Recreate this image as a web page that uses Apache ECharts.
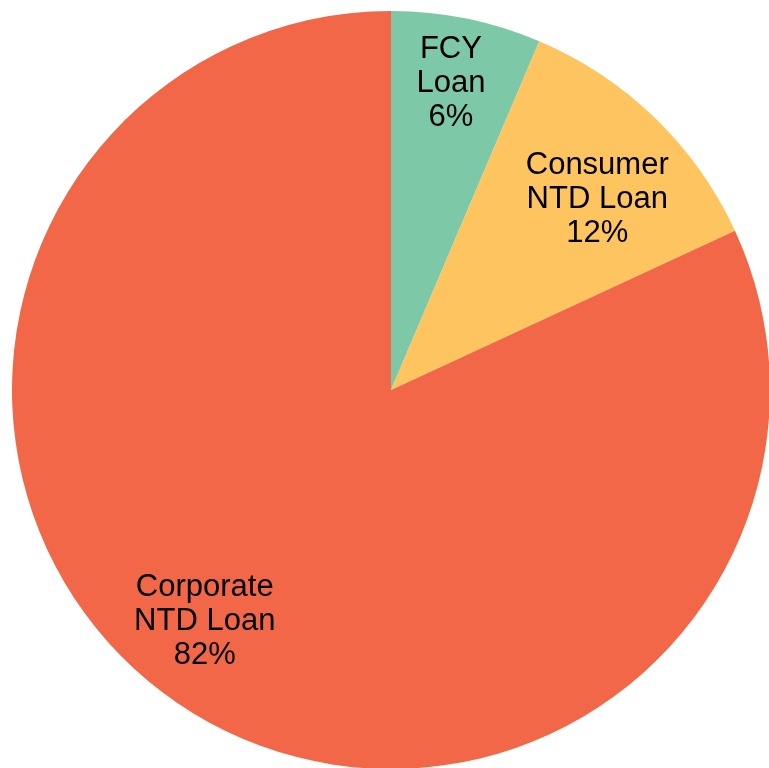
<!DOCTYPE html>
<html><head><meta charset="utf-8">
<script src="https://cdn.jsdelivr.net/npm/echarts@6/dist/echarts.min.js"></script>
<style>html,body{margin:0;padding:0;background:#fff}#c{width:769px;height:768px}</style>
</head><body><div id="c"></div>
<script>
const categories = ['FCY\nLoan', 'Consumer\nNTD Loan', 'Corporate\nNTD Loan'];
const values = [6.4, 11.7, 81.9];
const colors = ['#7dc8a6', '#fdc45f', '#f26747'];
const labelOffsets = [[-1, -8], [-6, 28], [-22, -26]];

const chart = echarts.init(document.getElementById('c'), null, { renderer: 'canvas' });
chart.setOption({
  animation: false,
  backgroundColor: '#fff',
  series: [
    {
      type: 'pie',
      center: [391, 390],
      radius: [0, 379],
      startAngle: 90,
      clockwise: true,
      silent: true,
      data: categories.map((n, i) => ({ name: n, value: values[i], itemStyle: { color: colors[i] } })),
      label: { show: false },
      labelLine: { show: false },
      itemStyle: { borderWidth: 0 }
    },
    {
      type: 'pie',
      center: [391, 390],
      radius: [225, 379],
      startAngle: 90,
      clockwise: true,
      silent: true,
      data: categories.map((n, i) => ({
        name: n, value: values[i],
        itemStyle: { color: 'rgba(0,0,0,0)' },
        label: { offset: labelOffsets[i] }
      })),
      label: {
        show: true,
        position: 'inside',
        formatter: p => p.name + '\n' + Math.round(p.percent) + '%',
        fontFamily: 'Liberation Sans, Arial, sans-serif',
        fontSize: 31,
        lineHeight: 34,
        color: '#000',
        align: 'center'
      },
      labelLine: { show: false },
      itemStyle: { borderWidth: 0 }
    }
  ]
});
</script></body></html>
